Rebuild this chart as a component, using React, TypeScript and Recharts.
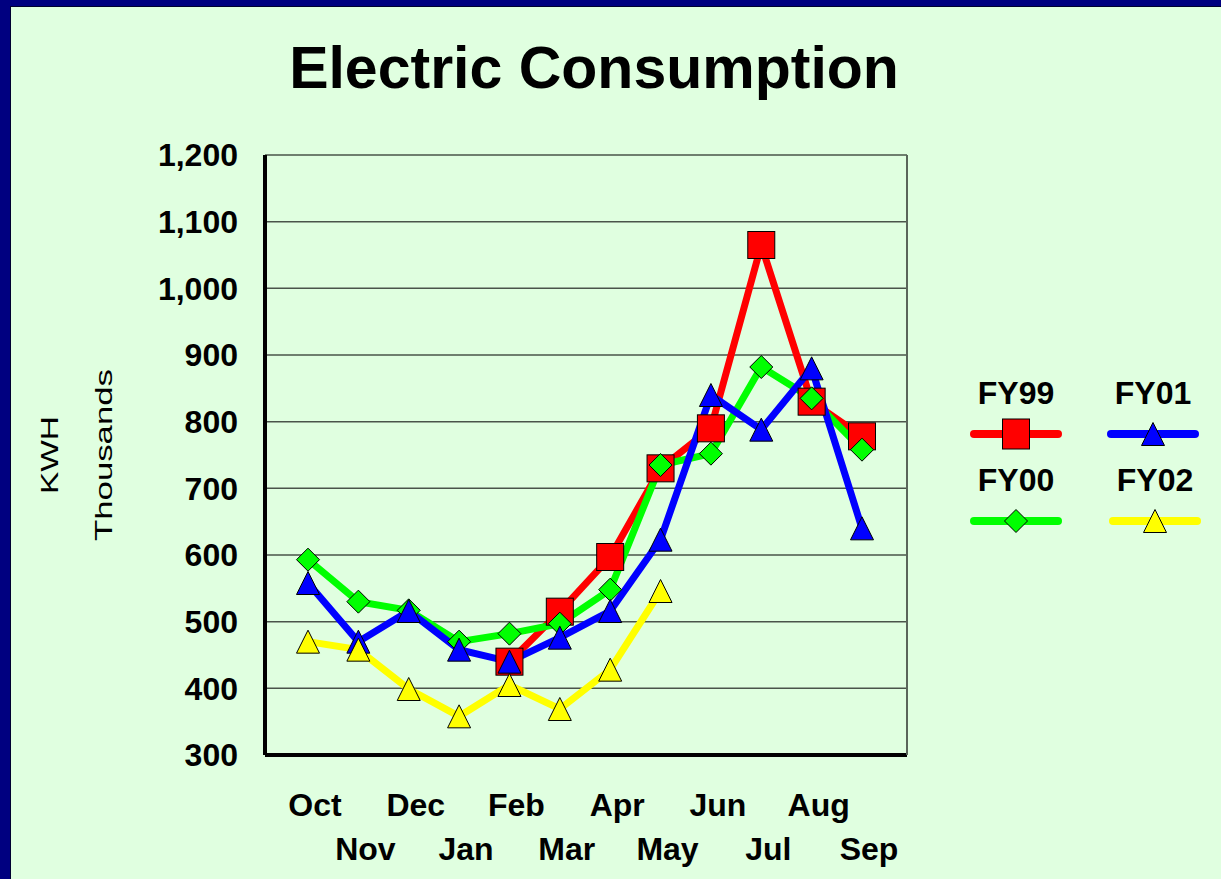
import React from 'react';
import { LineChart, Line, XAxis, YAxis, CartesianGrid } from 'recharts';

const months = ['Oct', 'Nov', 'Dec', 'Jan', 'Feb', 'Mar', 'Apr', 'May', 'Jun', 'Jul', 'Aug', 'Sep'];
const fy99 = [null, null, null, null, 440, 515, 597, 730, 790, 1065, 830, 778];
const fy00 = [593, 530, 517, 470, 482, 497, 548, 735, 752, 882, 835, 758];
const fy01 = [558, 470, 516, 458, 440, 476, 516, 623, 840, 788, 880, 640];
const fy02 = [470, 458, 399, 358, 405, 369, 428, 546, null, null, null, null];
const yTicks = [300, 400, 500, 600, 700, 800, 900, 1000, 1100, 1200];

const FONT = '"Liberation Sans", Arial, sans-serif';

type Shape = 'square' | 'diamond' | 'triangle';

const series: { key: string; name: string; color: string; shape: Shape }[] = [
  { key: 'fy99', name: 'FY99', color: '#ff0000', shape: 'square' },
  { key: 'fy00', name: 'FY00', color: '#00ff00', shape: 'diamond' },
  { key: 'fy01', name: 'FY01', color: '#0000ff', shape: 'triangle' },
  { key: 'fy02', name: 'FY02', color: '#ffff00', shape: 'triangle' },
];

const data = months.map((m, i) => ({ month: m, fy99: fy99[i], fy00: fy00[i], fy01: fy01[i], fy02: fy02[i] }));

function marker(shape: Shape, cx: number, cy: number, color: string, big = false) {
  if (shape === 'square') {
    const w = 27;
    const h = big ? 30 : 27;
    return <rect x={cx - w / 2} y={cy - h / 2} width={w} height={h} fill={color} stroke="#000" strokeWidth={1} />;
  }
  if (shape === 'diamond') {
    const r = 11.5;
    return (
      <polygon
        points={`${cx},${cy - r} ${cx + r},${cy} ${cx},${cy + r} ${cx - r},${cy}`}
        fill={color}
        stroke="#000"
        strokeWidth={1}
      />
    );
  }
  const r = 11.5;
  return (
    <polygon
      points={`${cx},${cy - r} ${cx + r},${cy + r} ${cx - r},${cy + r}`}
      fill={color}
      stroke="#000"
      strokeWidth={1}
    />
  );
}

const makeDot = (shape: Shape, color: string) => (props: any) => {
  const { cx, cy, index } = props;
  if (cx == null || cy == null || props.value == null) return <g key={`d${index}`} />;
  return <g key={`d${index}`}>{marker(shape, cx, cy, color)}</g>;
};

const MonthTick = (props: any) => {
  const { x, y, payload, index } = props;
  return (
    <text
      x={x + 7}
      y={y + (index % 2 === 0 ? 59 : 103)}
      textAnchor="middle"
      fontFamily={FONT}
      fontWeight="bold"
      fontSize={32}
      fill="#000"
    >
      {payload.value}
    </text>
  );
};

const AxisTitle = (props: any) => {
  const { viewBox } = props;
  const cy = viewBox.y + viewBox.height / 2;
  return (
    <g fontFamily={FONT} fontSize={24} fill="#000">
      <text x={viewBox.x + 48} y={cy} transform={`rotate(-90 ${viewBox.x + 48} ${cy})`} textAnchor="middle" textLength={78} lengthAdjust="spacingAndGlyphs">
        KWH
      </text>
      <text x={viewBox.x + 102} y={cy} transform={`rotate(-90 ${viewBox.x + 102} ${cy})`} textAnchor="middle" textLength={172} lengthAdjust="spacingAndGlyphs">
        Thousands
      </text>
    </g>
  );
};

function LegendItem({ s, cx, top }: { s: (typeof series)[number]; cx: number; top: number }) {
  return (
    <div style={{ position: 'absolute', left: cx - 50, top, width: 100, height: 80 }}>
      <div
        style={{
          position: 'absolute',
          left: 0,
          top: 0,
          width: 100,
          textAlign: 'center',
          fontFamily: FONT,
          fontWeight: 'bold',
          fontSize: 32,
          lineHeight: '32px',
        }}
      >
        {s.name}
      </div>
      <svg width={100} height={80} style={{ position: 'absolute', left: 0, top: 0 }}>
        <line x1={8} y1={57} x2={92} y2={57} stroke={s.color} strokeWidth={8} strokeLinecap="round" />
        {marker(s.shape, 50, 57, s.color, true)}
      </svg>
    </div>
  );
}

export default function App() {
  return (
    <div style={{ position: 'fixed', left: 0, top: 0, width: 1221, height: 879, background: '#000080' }}>
      <div
        style={{
          position: 'absolute',
          left: 10,
          top: 6,
          width: 1211,
          height: 873,
          background: '#e0ffe0',
          borderLeft: '1px solid #000030',
          borderTop: '1px solid #000030',
          boxSizing: 'border-box',
        }}
      >
        <div
          style={{
            position: 'absolute',
            left: 183,
            top: 32,
            width: 800,
            textAlign: 'center',
            fontFamily: FONT,
            fontWeight: 'bold',
            fontSize: 59,
            lineHeight: '59px',
            color: '#000',
          }}
        >
          Electric Consumption
        </div>
        <div style={{ position: 'absolute', left: -1, top: -1 }}>
          <LineChart width={1211} height={873} data={data} margin={{ top: 149, right: 310, bottom: 14, left: 0 }}>
            <CartesianGrid vertical={false} stroke="#4a544a" strokeWidth={1.5} />
            <XAxis
              dataKey="month"
              interval={0}
              tickLine={false}
              tickSize={0}
              height={110}
              padding={{ left: 43, right: 45 }}
              axisLine={{ stroke: '#000', strokeWidth: 4 }}
              tick={<MonthTick />}
            />
            <YAxis
              domain={[300, 1200]}
              ticks={yTicks}
              width={255}
              tickLine={false}
              tickSize={0}
              tickMargin={27}
              axisLine={{ stroke: '#000', strokeWidth: 4 }}
              tick={{ fill: '#000', fontSize: 32, fontWeight: 'bold', fontFamily: FONT }}
              tickFormatter={(v: number) => v.toLocaleString('en-US')}
              label={<AxisTitle />}
            />
            <YAxis
              yAxisId="frame"
              orientation="right"
              domain={[300, 1200]}
              ticks={yTicks}
              width={4}
              tick={false}
              tickLine={false}
              axisLine={{ stroke: '#5a665a', strokeWidth: 2 }}
            />
            {series.map((s) => (
              <Line
                key={s.key}
                dataKey={s.key}
                name={s.name}
                stroke={s.color}
                strokeWidth={7}
                dot={makeDot(s.shape, s.color)}
                activeDot={false}
                isAnimationActive={false}
              />
            ))}
          </LineChart>
        </div>
        <LegendItem s={series[0]} cx={1005} top={370} />
        <LegendItem s={series[2]} cx={1142} top={370} />
        <LegendItem s={series[1]} cx={1005} top={457} />
        <LegendItem s={series[3]} cx={1144} top={457} />
      </div>
    </div>
  );
}
